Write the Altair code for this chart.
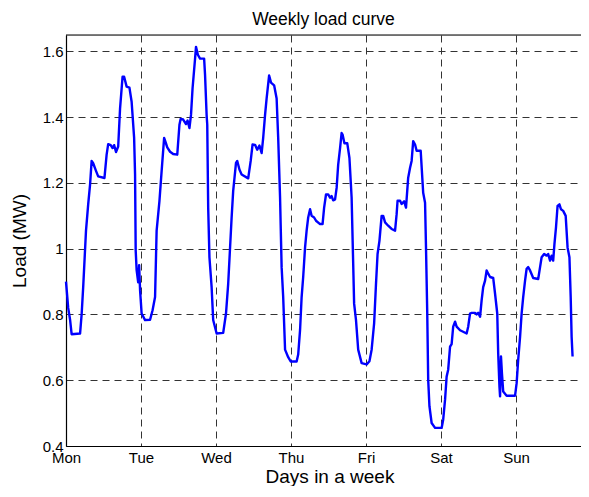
import altair as alt
import pandas as pd

# hours since Monday 00:00
hours = [0.0, 0.7, 1.3, 1.8, 4.5, 5.0, 5.5, 6.4, 7.1, 7.7, 8.2, 8.7, 9.6, 10.3, 12.3, 13.0, 13.5, 14.3, 14.9, 15.4,
         16.0, 16.7, 17.3, 18.1, 18.6, 19.4, 20.3, 21.0, 21.8, 22.1, 22.3, 22.6, 23.1, 23.4, 23.7, 24.2, 25.3, 26.9,
         27.7, 28.5, 29.0, 29.9, 30.6, 31.4, 32.0, 32.4, 33.3, 34.3, 35.6, 36.3, 36.7, 37.5, 38.4, 38.9, 39.5, 40.0,
         40.5, 41.3, 41.6, 42.2, 42.9, 44.2, 44.5, 45.0, 45.2, 45.5, 45.9, 46.6, 47.1, 48.2, 50.3, 51.2, 51.9, 53.0,
         53.5, 54.4, 54.8, 55.5, 56.2, 58.3, 59.1, 59.7, 60.5, 61.2, 61.9, 62.6, 63.1, 63.7, 64.2, 65.0, 65.6, 66.6,
         67.4, 67.9, 68.5, 69.0, 69.5, 70.1, 71.1, 71.9, 73.8, 74.3, 74.9, 75.4, 75.9, 76.5, 77.0, 77.5, 78.1, 78.6,
         79.4, 80.0, 81.3, 82.1, 82.6, 83.2, 83.9, 84.5, 85.0, 85.5, 86.1, 86.6, 87.1, 87.7, 88.2, 88.5, 89.1, 90.0,
         90.7, 91.4, 91.9, 92.2, 92.8, 93.5, 94.6, 96.2, 97.1, 97.8, 98.6, 99.2, 99.7, 100.3, 101.0, 101.5, 102.1,
         103.1, 104.2, 105.3, 105.8, 106.1, 106.9, 107.4, 108.2, 108.8, 109.5, 110.1, 110.6, 111.1, 111.7, 112.2,
         113.5, 114.3, 114.9, 115.2, 115.6, 115.9, 116.3, 117.0, 118.1, 120.2, 120.7, 121.3, 121.8, 122.3, 122.9,
         123.4, 123.9, 124.5, 125.0, 126.1, 128.2, 128.7, 129.3, 129.8, 130.9, 131.4, 131.9, 132.5, 133.0, 133.5,
         134.1, 134.6, 135.1, 135.7, 136.7, 137.3, 138.0, 138.3, 138.7, 138.9, 139.2, 139.5, 139.9, 141.0, 143.7,
         144.2, 144.7, 145.3, 145.8, 146.3, 146.9, 147.4, 147.9, 148.5, 149.5, 151.1, 151.7, 152.2, 153.0, 153.8,
         154.3, 154.9, 155.4, 155.9, 156.3, 156.8, 157.3, 157.9, 158.4, 159.1, 159.9, 160.5, 161.1, 161.5, 161.8,
         162.1]

load_mw = [0.90, 0.82, 0.784, 0.74, 0.742, 0.80, 0.883, 1.055, 1.135, 1.195, 1.267, 1.26, 1.237, 1.22, 1.215, 1.286,
           1.318, 1.315, 1.306, 1.315, 1.294, 1.311, 1.427, 1.523, 1.523, 1.493, 1.49, 1.447, 1.337, 1.226, 0.995,
           0.935, 0.898, 0.95, 0.874, 0.803, 0.783, 0.784, 0.813, 0.853, 1.055, 1.145, 1.236, 1.337, 1.32, 1.308,
           1.295, 1.288, 1.286, 1.377, 1.395, 1.393, 1.379, 1.39, 1.367, 1.407, 1.488, 1.578, 1.614, 1.59, 1.578,
           1.578, 1.528, 1.406, 1.377, 1.125, 0.974, 0.883, 0.783, 0.742, 0.744, 0.803, 0.893, 1.095, 1.176, 1.261,
           1.267, 1.241, 1.226, 1.214, 1.267, 1.317, 1.316, 1.301, 1.314, 1.291, 1.337, 1.407, 1.457, 1.527, 1.505,
           1.497, 1.457, 1.337, 1.155, 0.944, 0.853, 0.693, 0.67, 0.657, 0.657, 0.678, 0.753, 0.853, 0.914, 1.004,
           1.055, 1.095, 1.12, 1.10, 1.095, 1.085, 1.075, 1.075, 1.125, 1.165, 1.165, 1.155, 1.16, 1.147, 1.15,
           1.185, 1.256, 1.306, 1.352, 1.347, 1.321, 1.321, 1.276, 1.155, 0.954, 0.833, 0.783, 0.693, 0.652, 0.648,
           0.658, 0.693, 0.773, 0.893, 0.984, 1.024, 1.10, 1.10, 1.08, 1.07, 1.06, 1.055, 1.105, 1.146, 1.146,
           1.136, 1.144, 1.125, 1.216, 1.246, 1.267, 1.327, 1.317, 1.298, 1.298, 1.17, 1.14, 1.004, 0.803, 0.602,
           0.521, 0.47, 0.455, 0.455, 0.48, 0.541, 0.611, 0.632, 0.702, 0.71, 0.763, 0.778, 0.763, 0.752, 0.742,
           0.763, 0.803, 0.805, 0.805, 0.80, 0.805, 0.793, 0.843, 0.883, 0.903, 0.934, 0.924, 0.914, 0.911, 0.863,
           0.803, 0.682, 0.581, 0.551, 0.672, 0.621, 0.566, 0.553, 0.553, 0.591, 0.662, 0.732, 0.803, 0.853, 0.903,
           0.939, 0.944, 0.934, 0.911, 0.908, 0.944, 0.974, 0.984, 0.979, 0.984, 0.964, 0.979, 0.964, 1.014, 1.065,
           1.13, 1.135, 1.12, 1.115, 1.10, 1.004, 0.974, 0.853, 0.732, 0.672]

day_labels = ["Mon", "Tue", "Wed", "Thu", "Fri", "Sat", "Sun"]
day_ticks = [0, 24, 48, 72, 96, 120, 144]
y_ticks = [0.4, 0.6, 0.8, 1.0, 1.2, 1.4, 1.6]

df = pd.DataFrame({"hour": hours, "load": load_mw})

FONT = "Liberation Sans"
W, H = 515, 411
X_MAX = W / 75 * 24  # 75 px per day

label_expr = "[" + ",".join(f"'{d}'" for d in day_labels) + "][round(datum.value / 24)]"

grid_style = dict(grid=True, gridColor="#333333", gridDash=[7, 5], gridWidth=1, gridOpacity=1)

line = alt.Chart(df).mark_line(color="#0000FF", strokeWidth=2.4, strokeJoin="round").encode(
    x=alt.X("hour:Q",
            scale=alt.Scale(domain=[0, X_MAX], nice=False, zero=False),
            axis=alt.Axis(values=day_ticks, labelExpr=label_expr, title="Days in a week",
                          ticks=False, tickSize=0, labelPadding=4, labelFontSize=15, labelFont=FONT,
                          labelColor="#000000", labelBaseline="top", labelAlign="center",
                          titleFontSize=19, titleFont=FONT, titleFontWeight="normal", titleColor="#000000",
                          titleBaseline="alphabetic", titleY=36, titleX=W / 2 + 6,
                          domainColor="#000000", domainWidth=1.2, **grid_style)),
    y=alt.Y("load:Q",
            scale=alt.Scale(domain=[0.4, 1.65], nice=False, zero=False),
            axis=alt.Axis(values=y_ticks, format=".1~f", title="Load (MW)",
                          ticks=False, tickSize=0, labelPadding=3, labelFontSize=15, labelFont=FONT,
                          labelColor="#000000", labelBaseline="middle",
                          titleFontSize=19, titleFont=FONT, titleFontWeight="normal", titleColor="#000000",
                          titleAngle=270, titleBaseline="alphabetic", titleX=-41, titleY=H / 2,
                          domainColor="#000000", domainWidth=1.2, **grid_style)),
)

top_border = alt.Chart(alt.Data(values=[{}])).mark_rule(color="#000000", strokeWidth=1.2).encode(
    x=alt.value(0), x2=alt.value(W), y=alt.value(0)
)

chart = alt.layer(line, top_border).properties(
    width=W, height=H,
    title=alt.TitleParams("Weekly load curve", font=FONT, fontSize=17.5, fontWeight="normal",
                          color="#000000", anchor="middle", baseline="alphabetic", offset=14, dy=22),
    autosize=alt.AutoSizeParams(type="none"),
    padding={"left": 58, "top": 27, "right": 0, "bottom": 40},
).configure_view(stroke=None).configure(background="#ffffff")

chart.save("out.html", embed_options={"renderer": "svg", "actions": False})
